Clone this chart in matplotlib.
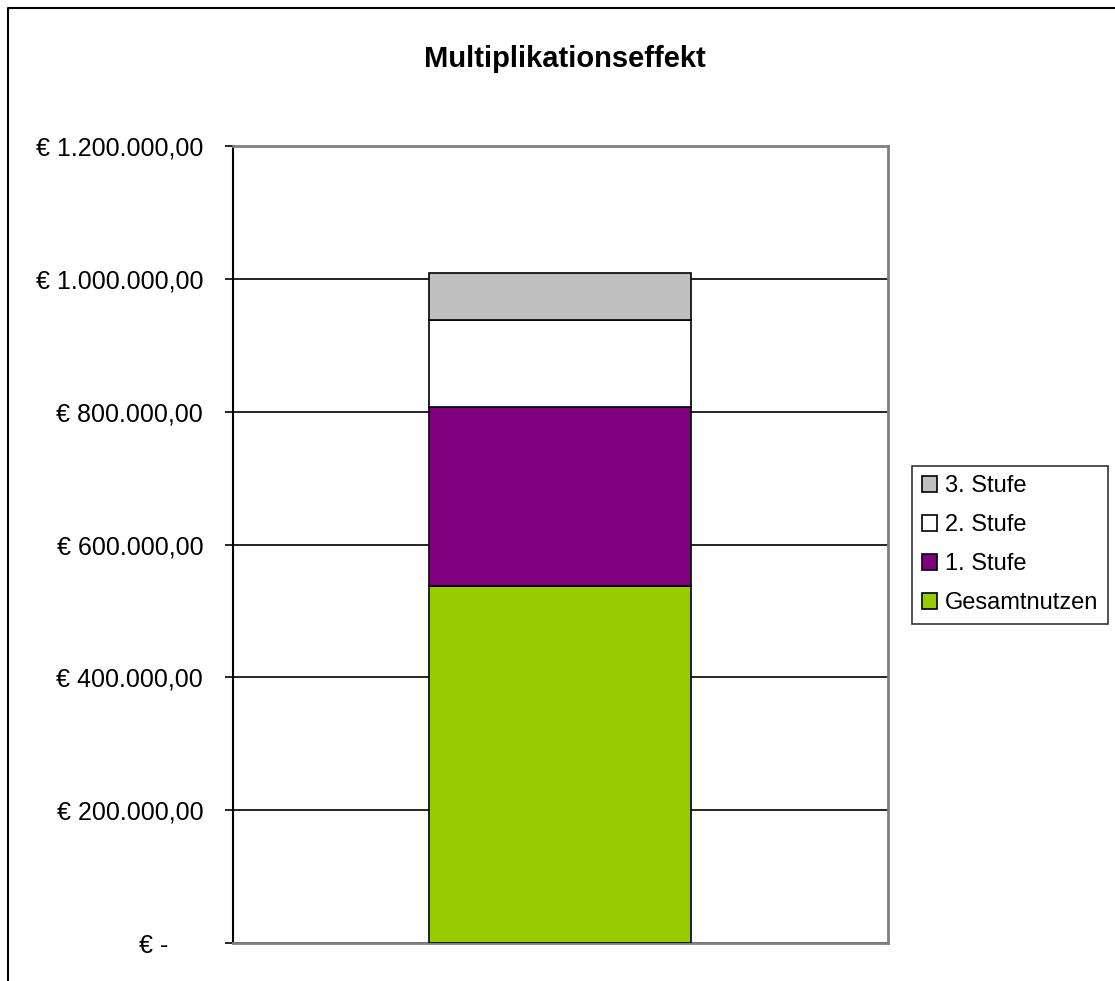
import matplotlib
matplotlib.use("Agg")
import matplotlib.pyplot as plt
from matplotlib.ticker import FuncFormatter
from matplotlib.lines import Line2D

plt.rcParams['font.family'] = ['Liberation Sans', 'DejaVu Sans']

# Data
categories = [""]
series_names = ["Gesamtnutzen", "1. Stufe", "2. Stufe", "3. Stufe"]
series_values = [537500, 269000, 132000, 70000]
series_colors = ["#99CC00", "#800080", "#FFFFFF", "#C0C0C0"]
y_ticks = [0, 200000, 400000, 600000, 800000, 1000000, 1200000]


def euro_fmt(v, pos):
    if v == 0:
        return "€ -     "
    s = f"{v:,.2f}".replace(",", "X").replace(".", ",").replace("X", ".")
    return "€ " + s


fig = plt.figure(figsize=(11.15, 9.81), dpi=100)
ax = fig.add_axes([0.209, 0.0387, 0.587, 0.8125])

bottom = 0
handles = []
for name, val, col in zip(series_names, series_values, series_colors):
    b = ax.bar(categories, [val], width=0.4, bottom=bottom, color=col,
               edgecolor="black", linewidth=1.2, label=name, zorder=3)
    handles.append(b)
    bottom += val

ax.set_xlim(-0.5, 0.5)
ax.set_ylim(0, 1200000)
ax.set_yticks(y_ticks)
ax.yaxis.set_major_formatter(FuncFormatter(euro_fmt))
ax.tick_params(axis="y", direction="out", length=6, width=1.2,
               labelsize=18, pad=15.5, colors="black")
ax.tick_params(axis="x", length=0, labelbottom=False)
ax.grid(axis="y", color="black", linewidth=1.2, zorder=0)

for side in ["top", "right", "bottom"]:
    ax.spines[side].set_color("#808080")
    ax.spines[side].set_linewidth(2)
ax.spines["left"].set_color("black")
ax.spines["left"].set_linewidth(1.5)

fig.text(0.507, 0.94, "Multiplikationseffekt", ha="center", va="center",
         fontsize=21, fontweight="bold")

leg = fig.legend(handles[::-1], series_names[::-1], loc="center left",
                 bbox_to_anchor=(0.818, 0.4445), fontsize=17,
                 frameon=True, fancybox=False, edgecolor="black",
                 handlelength=0.62, handleheight=0.62, handletextpad=0.35,
                 labelspacing=0.72, borderpad=0.42, borderaxespad=0)
leg.get_frame().set_linewidth(1.2)

# outer chart border (left and top only, chart is cropped)
fig.add_artist(Line2D([0.0072, 0.0072, 1.0], [0.0, 0.9918, 0.9918],
                      transform=fig.transFigure, color="black",
                      linewidth=1.5))

fig.savefig("out.png", dpi=100)
